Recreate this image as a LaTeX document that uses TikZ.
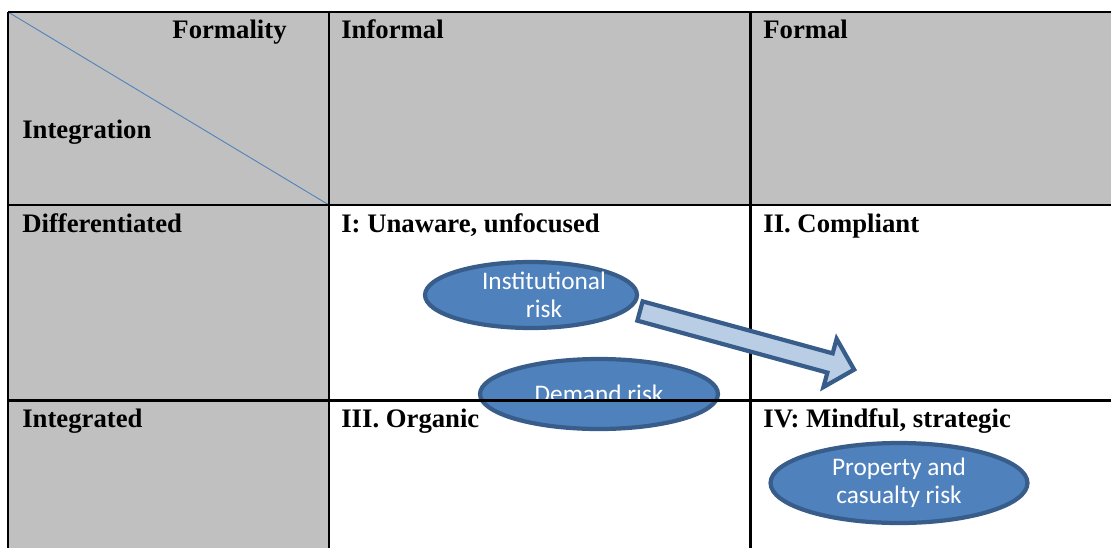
\documentclass[tikz,border=0pt]{standalone}
\usepackage{fontspec}
\setmainfont{Liberation Serif}
\newfontfamily\carlito{Carlito}
\usetikzlibrary{shapes.geometric}

\definecolor{cellgrey}{HTML}{C0C0C0}
\definecolor{riskfill}{HTML}{4F81BD}
\definecolor{riskline}{HTML}{385D8A}
\definecolor{arrowfill}{HTML}{B9CDE5}

\begin{document}
\begin{tikzpicture}[x=0.02cm,y=-0.02cm,
	head/.style={anchor=base west,inner sep=0pt,font=\fontsize{15.2}{18}\selectfont\bfseries},
	risk/.style={ellipse,draw=riskline,fill=riskfill,line width=2.4pt,inner sep=0pt,
		text=white,align=center,font=\fontsize{14.4}{16}\selectfont\carlito},
	risktext/.style={inner sep=0pt,text=white,align=center,font=\fontsize{14.4}{16}\selectfont\carlito},
	grid/.style={line width=1.7pt}]

\useasboundingbox (0,0) rectangle (1111,548);

\def\xa{8}
\def\xb{329}
\def\xc{750}
\def\xe{1111}

\fill[cellgrey] (\xa,12) rectangle (\xe,205);
\fill[cellgrey] (\xa,205) rectangle (\xb,548);
\draw[riskfill,line width=0.5pt] (\xa,12)--(\xb,205);

\node[risk,minimum width=4.24cm,minimum height=1.32cm] (institutional) at (531,295) {};
\node[risktext] (institutionaltext) at (544,295) {Institutional\\risk};
\node[risk,minimum width=4.76cm,minimum height=1.4cm] (demand) at (599,394) {};
\node[risk,minimum width=5.14cm,minimum height=1.6cm] (property) at (899,483) {Property and\\casualty risk};

\begin{scope}
	\clip (460,350) rectangle (740,399);
	\node[risktext,anchor=base] (demandtext) at (599,402) {Demand risk};
\end{scope}

\foreach \y in {12,205,400}{
	\draw[grid] (\xa,\y)--(\xe,\y);
}
\foreach \x in {\xa,\xb,\xc}{
	\draw[grid] (\x,12)--(\x,548);
}

\node[head,anchor=base east] (formality) at (287,38) {Formality};
\node[head] (integration) at (22,138) {Integration};
\node[head] (informal) at (341,38) {Informal};
\node[head] (formal) at (763,38) {Formal};

\node[head] (differentiated) at (22,232) {Differentiated};
\node[head] (unaware) at (341,232) {I: Unaware, unfocused};
\node[head] (compliant) at (763,232) {II. Compliant};

\node[head] (integrated) at (22,427) {Integrated};
\node[head] (organic) at (341,427) {III. Organic};
\node[head] (mindful) at (763,427) {IV: Mindful, strategic};

\begin{scope}[shift={(640,311)},rotate=-15.3]
	\draw[draw=riskline,fill=arrowfill,line width=2.4pt,line join=miter]
		(0,-10)--(197,-10)--(197,-25)--(222,0)--(197,25)--(197,10)--(0,10)--cycle;
\end{scope}

\end{tikzpicture}
\end{document}
